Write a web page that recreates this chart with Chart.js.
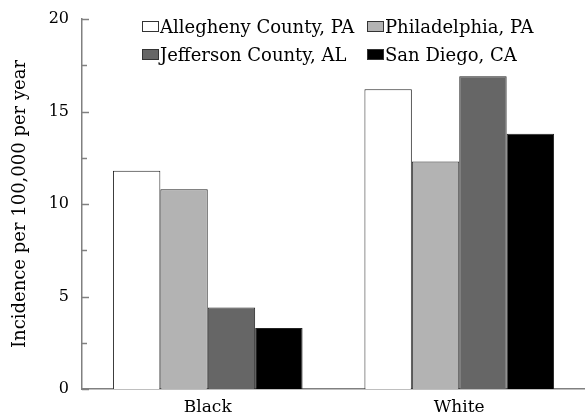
<!DOCTYPE html>
<html>
<head>
<meta charset="utf-8">
<script src="https://cdn.jsdelivr.net/npm/chart.js@4"></script>
<style>
  body { margin: 0; background: #fff; }
  #wrap { position: relative; width: 585px; height: 418px; }
  #legend { position: absolute; left: 142px; top: 15px; font-family: "DejaVu Serif", serif; font-size: 18px; color: #000;
            display: grid; grid-template-columns: 225px 200px; row-gap: 5px; }
  .item { display: flex; align-items: center; height: 23px; white-space: nowrap; }
  .box { width: 15px; height: 9px; border: 1px solid #333; margin-right: 1px; }
</style>
</head>
<body>
<div id="wrap">
  <canvas id="chart" width="585" height="418"></canvas>
  <div id="legend"></div>
</div>
<script>
// values
const groups = ['Black', 'White'];
const places = ['Allegheny County, PA', 'Philadelphia, PA', 'Jefferson County, AL', 'San Diego, CA'];
const allegheny = [11.8, 16.2];
const philadelphia = [10.8, 12.3];
const jefferson = [4.4, 16.9];
const sanDiego = [3.3, 13.8];
const fills = ['#ffffff', '#b3b3b3', '#666666', '#000000'];
const yTicks = [0, 5, 10, 15, 20];

const series = [allegheny, philadelphia, jefferson, sanDiego];
const serif = '"DejaVu Serif", serif';

// tick marks that point into the plot
const innerTicks = {
    id: 'innerTicks',
    afterDraw(chart) {
        const y = chart.scales.y;
        const ctx = chart.ctx;
        const left = chart.chartArea.left;
        ctx.save();
        ctx.strokeStyle = '#808080';
        ctx.lineWidth = 1.5;
        for (let v = 0; v <= 20; v += 2.5) {
            const py = Math.round(y.getPixelForValue(v)) + 0.5;
            const len = v % 5 === 0 ? 7 : 5;
            ctx.beginPath();
            ctx.moveTo(left, py);
            ctx.lineTo(left + len, py);
            ctx.stroke();
        }
        ctx.restore();
    }
};

const chart = new Chart(document.getElementById('chart').getContext('2d'), {
    type: 'bar',
    data: {
        labels: groups,
        datasets: places.map((p, i) => ({
            label: p,
            data: series[i],
            backgroundColor: fills[i],
            borderColor: '#222',
            borderWidth: 1,
            borderSkipped: 'bottom',
        })),
    },
    options: {
        responsive: false,
        animation: false,
        layout: { padding: { top: 19, right: 0, left: 0, bottom: 0 } },
        plugins: { legend: { display: false }, tooltip: { enabled: false } },
        datasets: { bar: { barPercentage: 1, categoryPercentage: 0.754 } },
        scales: {
            x: {
                grid: { display: false, drawTicks: false },
                border: { color: '#808080', width: 1.5 },
                ticks: { color: '#000', font: { family: serif, size: 17 }, padding: 8 },
                afterFit(s) { s.height = 29; },
            },
            y: {
                min: 0,
                max: 20,
                afterBuildTicks(s) { s.ticks = yTicks.map(v => ({ value: v })); },
                grid: { display: false, drawTicks: false },
                border: { color: '#808080', width: 1.5 },
                ticks: { color: '#000', font: { family: serif, size: 16 }, padding: 13 },
                title: { display: true, text: 'Incidence per 100,000 per year', color: '#000',
                         font: { family: serif, size: 18 }, padding: { top: 10, bottom: 0 } },
                afterFit(s) { s.width = 82; s.paddingTop = 0; s.paddingBottom = 0; },
            },
        },
    },
    plugins: [innerTicks],
});

// legend laid out as in the picture: two rows of two
const legend = document.getElementById('legend');
[0, 1, 2, 3].forEach(i => {
    const item = document.createElement('div');
    item.className = 'item';
    const box = document.createElement('span');
    box.className = 'box';
    box.style.background = fills[i];
    item.appendChild(box);
    item.appendChild(document.createTextNode(places[i]));
    legend.appendChild(item);
});
</script>
</body>
</html>
